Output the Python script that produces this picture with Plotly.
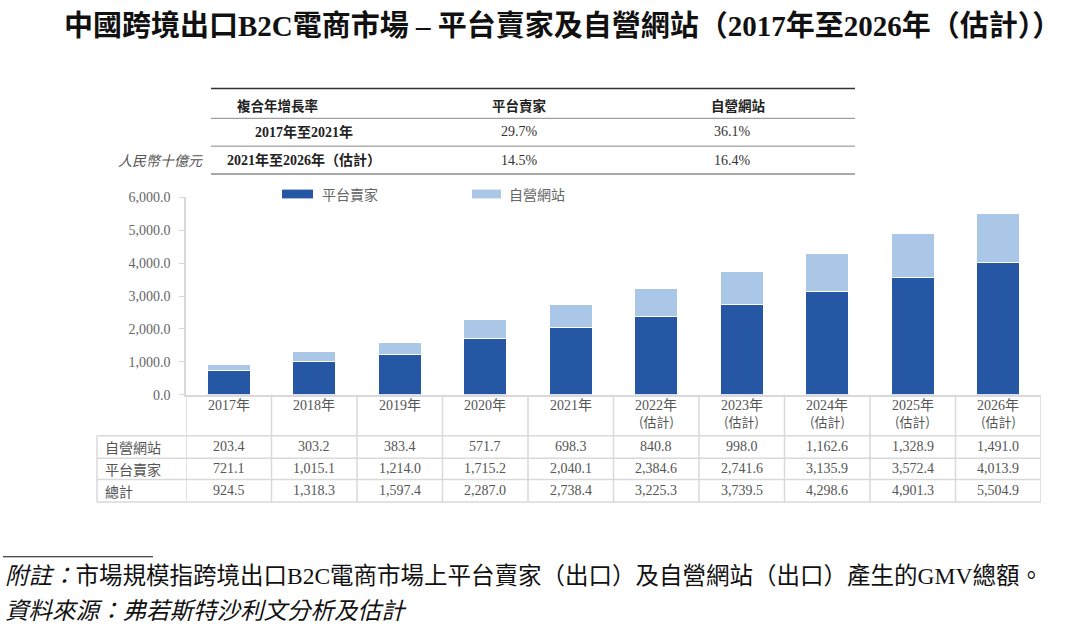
import plotly.graph_objects as go

# ---------------- data ----------------
years = ["2017年", "2018年", "2019年", "2020年", "2021年", "2022年", "2023年", "2024年", "2025年", "2026年"]
estimated = [False, False, False, False, False, True, True, True, True, True]
self_site = [203.4, 303.2, 383.4, 571.7, 698.3, 840.8, 998.0, 1162.6, 1328.9, 1491.0]
platform = [721.1, 1015.1, 1214.0, 1715.2, 2040.1, 2384.6, 2741.6, 3135.9, 3572.4, 4013.9]
total = [924.5, 1318.3, 1597.4, 2287.0, 2738.4, 3225.3, 3739.5, 4298.6, 4901.3, 5504.9]
series_names = ["平台賣家", "自營網站"]
row_labels = ["自營網站", "平台賣家", "總計"]
cagr_header = ["複合年增長率", "平台賣家", "自營網站"]
cagr_periods = ["2017年至2021年", "2021年至2026年（估計）"]
cagr_platform = ["29.7%", "14.5%"]
cagr_self = ["36.1%", "16.4%"]
y_ticks = [0, 1000, 2000, 3000, 4000, 5000, 6000]

title = "中國跨境出口B2C電商市場 – 平台賣家及自營網站（2017年至2026年（估計））"
note = "<i>附註：</i>市場規模指跨境出口B2C電商市場上平台賣家（出口）及自營網站（出口）產生的GMV總額。"
source = "<i>資料來源：弗若斯特沙利文分析及估計</i>"
unit = "人民幣十億元"
est_label = "(估計)"

# ---------------- style ----------------
W, H = 1080, 638
DARK = "#2557A4"
LIGHT = "#ABC7E7"
GRID = "#D9D9D9"
TXT = "#555555"
SERIF = "Liberation Serif, Noto Sans CJK TC, serif"
CJK = "Noto Sans CJK TC, sans-serif"


def px(x):
    return x / W


def py(y):
    return 1 - y / H


n = len(years)
xs = list(range(n))

fig = go.Figure()
fig.add_trace(go.Bar(x=xs, y=platform, name=series_names[0], marker=dict(color=DARK, line=dict(color="white", width=1)), width=0.5))
fig.add_trace(go.Bar(x=xs, y=self_site, name=series_names[1], marker=dict(color=LIGHT, line=dict(color="white", width=1)), width=0.5))

plot_l, plot_r = 186, 1041
y0_px, y6_px = 397, 195

shapes = []
annos = []

# title
annos.append(dict(x=px(562), y=py(19), xref="paper", yref="paper", text="<b>" + title + "</b>",
                  showarrow=False, font=dict(family=SERIF, size=29, color="#111"), xanchor="center", yanchor="middle"))

# CAGR table
tl, tr = 211, 855
for yy, col, wd in [(83.5, "#333333", 1.5), (114, "#888888", 1), (142.5, "#888888", 1), (171, "#555555", 1.2)]:
    shapes.append(dict(type="line", xref="paper", yref="paper", x0=px(tl), x1=px(tr), y0=py(yy), y1=py(yy),
                       line=dict(color=col, width=wd)))
col_x = [277, 519, 738]
for cx, t in zip(col_x, cagr_header):
    annos.append(dict(x=px(cx), y=py(100), xref="paper", yref="paper", text="<b>" + t + "</b>", showarrow=False,
                      font=dict(family=CJK, size=13.5, color="#222"), xanchor="center", yanchor="middle"))
row_y = [128, 157]
for i in range(len(cagr_periods)):
    annos.append(dict(x=px(304), y=py(row_y[i]), xref="paper", yref="paper", text="<b>" + cagr_periods[i] + "</b>",
                      showarrow=False, font=dict(family=SERIF, size=14, color="#222"), xanchor="center", yanchor="middle"))
    annos.append(dict(x=px(519), y=py(row_y[i]), xref="paper", yref="paper", text=cagr_platform[i],
                      showarrow=False, font=dict(family=SERIF, size=14, color="#333"), xanchor="center", yanchor="middle"))
    annos.append(dict(x=px(732), y=py(row_y[i]), xref="paper", yref="paper", text=cagr_self[i],
                      showarrow=False, font=dict(family=SERIF, size=14, color="#333"), xanchor="center", yanchor="middle"))
annos.append(dict(x=px(205), y=py(157), xref="paper", yref="paper", text="<i>" + unit + "</i>", showarrow=False,
                  font=dict(family=CJK, size=14, color="#555"), xanchor="right", yanchor="middle"))

# legend (manual)
for (sx0, sx1, tx, col, name) in [(282, 313, 320, DARK, series_names[0]), (472, 501, 507, LIGHT, series_names[1])]:
    shapes.append(dict(type="rect", xref="paper", yref="paper", x0=px(sx0), x1=px(sx1), y0=py(196), y1=py(187),
                       fillcolor=col, line=dict(width=0)))
    annos.append(dict(x=px(tx), y=py(192), xref="paper", yref="paper", text=name, showarrow=False,
                      font=dict(family=CJK, size=14, color="#666"), xanchor="left", yanchor="middle"))

# data table under the chart
tab_l = 97
row_lines = [439, 462, 484, 507]
row_centers = [450.5, 473, 495.5]
for yy in row_lines:
    shapes.append(dict(type="line", xref="paper", yref="paper", x0=px(tab_l), x1=px(plot_r), y0=py(yy), y1=py(yy),
                       line=dict(color=GRID, width=1.5)))
shapes.append(dict(type="line", xref="paper", yref="paper", x0=px(tab_l), x1=px(tab_l), y0=py(row_lines[0]), y1=py(507),
                   line=dict(color=GRID, width=1.5)))
for k in range(n + 1):
    shapes.append(dict(type="line", xref="x", yref="paper", x0=k - 0.5, x1=k - 0.5, y0=py(y0_px), y1=py(507),
                       line=dict(color=GRID, width=1.5)))

for k in range(n):
    annos.append(dict(x=k, y=py(408), xref="x", yref="paper", text=years[k], showarrow=False,
                      font=dict(family=SERIF, size=14, color=TXT), xanchor="center", yanchor="middle"))
    if estimated[k]:
        annos.append(dict(x=k, y=py(424), xref="x", yref="paper", text=est_label, showarrow=False,
                          font=dict(family=CJK, size=13, color=TXT), xanchor="center", yanchor="middle"))
    for r, arr in enumerate([self_site, platform, total]):
        annos.append(dict(x=k, y=py(row_centers[r]), xref="x", yref="paper", text=f"{arr[k]:,.1f}", showarrow=False,
                          font=dict(family=SERIF, size=14, color=TXT), xanchor="center", yanchor="middle"))
for r, lab in enumerate(row_labels):
    annos.append(dict(x=px(103), y=py(row_centers[r]), xref="paper", yref="paper", text=lab, showarrow=False,
                      font=dict(family=CJK, size=14, color=TXT), xanchor="left", yanchor="middle"))

# footnotes
shapes.append(dict(type="line", xref="paper", yref="paper", x0=px(3), x1=px(153), y0=py(563), y1=py(563),
                   line=dict(color="#111", width=1.2)))
annos.append(dict(x=px(3), y=py(583), xref="paper", yref="paper", text=note, showarrow=False,
                  font=dict(family=SERIF, size=23.5, color="#111"), xanchor="left", yanchor="middle"))
annos.append(dict(x=px(3), y=py(619), xref="paper", yref="paper", text=source, showarrow=False,
                  font=dict(family=SERIF, size=23.5, color="#111"), xanchor="left", yanchor="middle"))

fig.update_layout(
    width=W, height=H, margin=dict(l=0, r=0, t=0, b=0),
    paper_bgcolor="white", plot_bgcolor="white",
    barmode="stack", showlegend=False,
    xaxis=dict(domain=[px(plot_l), px(plot_r)], range=[-0.5, n - 0.5], showticklabels=False, ticks="",
               showgrid=False, zeroline=False, showline=True, linecolor=GRID, linewidth=1.5, fixedrange=True),
    yaxis=dict(domain=[py(y0_px), py(y6_px)], range=[0, 6000], tickvals=y_ticks,
               ticktext=[f"{v:,.1f}" for v in y_ticks], ticks="outside", ticklen=5, tickcolor=GRID,
               tickfont=dict(family=SERIF, size=14, color="#666"), showgrid=False, zeroline=False,
               showline=True, linecolor=GRID, linewidth=1.5, ticklabelstandoff=6),
    shapes=shapes, annotations=annos,
)

fig.write_html("out.html", config={"displayModeBar": False},
               post_script="document.body.style.margin='0';document.body.style.padding='0';document.body.style.overflow='hidden';")
